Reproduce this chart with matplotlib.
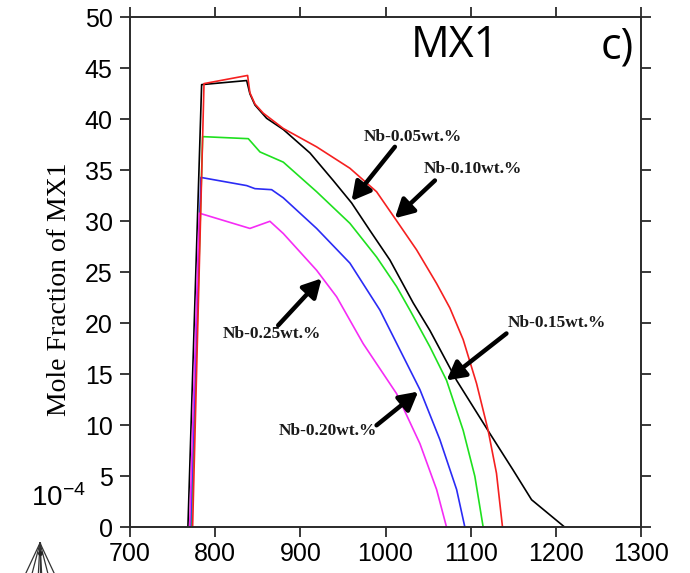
# =========================
# MX1 mole fraction vs temperature (panel c)
# =========================
import matplotlib
matplotlib.use("Agg")
import matplotlib.pyplot as plt
from matplotlib.lines import Line2D

# =========================
# Data
# =========================
nb005_t = [768.0, 784.1, 837.0, 840.8, 846.7, 860.4, 880.0, 911.3, 938.6, 960.2, 981.7,
           1005.2, 1032.5, 1052.1, 1083.5, 1122.5, 1149.9, 1171.5, 1210.6]
nb005_f = [0.0, 43.4, 43.8, 42.5, 41.4, 40.1, 39.0, 36.7, 34.0, 31.8, 29.1,
           26.2, 22.0, 19.3, 14.4, 9.2, 5.6, 2.7, 0.0]

nb010_t = [773.5, 786.9, 838.1, 840.8, 846.7, 856.5, 880.0, 919.1, 958.2, 989.5, 1011.0,
           1036.5, 1060.0, 1075.6, 1091.2, 1106.9, 1120.5, 1130.3, 1137.4]
nb010_f = [0.0, 43.5, 44.3, 42.6, 41.5, 40.6, 39.1, 37.3, 35.2, 32.9, 30.3,
           27.2, 23.9, 21.5, 18.4, 14.1, 9.5, 5.3, 0.0]

nb015_t = [772.0, 785.3, 838.9, 852.6, 880.0, 919.1, 958.2, 989.5, 1013.0, 1028.6,
           1052.1, 1071.7, 1091.2, 1104.9, 1114.7]
nb015_f = [0.0, 38.3, 38.1, 36.8, 35.8, 32.9, 29.8, 26.5, 23.6, 21.3,
           17.7, 14.4, 9.5, 5.0, 0.0]

nb020_t = [771.0, 783.3, 837.0, 846.7, 866.3, 880.0, 919.1, 958.2, 993.4,
           1016.9, 1040.4, 1063.8, 1083.5, 1093.2]
nb020_f = [0.0, 34.3, 33.5, 33.2, 33.1, 32.3, 29.3, 25.9, 21.3,
           17.4, 13.5, 8.6, 3.7, 0.0]

nb025_t = [770.0, 781.3, 840.8, 864.3, 880.0, 919.1, 942.6, 973.8, 1013.0, 1040.4, 1060.0, 1071.7]
nb025_f = [0.0, 30.8, 29.3, 30.0, 28.8, 25.2, 22.6, 18.0, 13.1, 8.2, 3.7, 0.0]

series = [
    (nb005_t, nb005_f, "black"),
    (nb015_t, nb015_f, "#1fe01f"),
    (nb020_t, nb020_f, "#2b2bf5"),
    (nb025_t, nb025_f, "#f52cf5"),
    (nb010_t, nb010_f, "#f52020"),
]

# labels: text, text position, arrow tail, arrow tip
labels      = ["Nb-0.05wt.%", "Nb-0.10wt.%", "Nb-0.15wt.%", "Nb-0.25wt.%", "Nb-0.20wt.%"]
label_pos   = [(1032, 38.3), (1102.6, 35.1), (1201.8, 20.0), (866.3, 18.95), (931.8, 9.46)]
arrow_tail  = [(1011, 37.3), (1058, 34.0), (1142, 19.0), (874, 19.8), (989.5, 10.0)]
arrow_tip   = [(960.2, 32.0), (1011, 30.3), (1071.7, 14.4), (925, 24.4), (1038.4, 13.3)]

x_ticks = [700, 800, 900, 1000, 1100, 1200, 1300]
y_ticks = [0, 5, 10, 15, 20, 25, 30, 35, 40, 45, 50]

# =========================
# Figure
# =========================
fig = plt.figure(figsize=(6.9, 5.73), dpi=100)
ax = fig.add_axes([0.1884, 0.0798, 0.7406, 0.8900])

for t, f, c in series:
    ax.plot(t, f, color=c, lw=1.2)

ax.set_xlim(700, 1300)
ax.set_ylim(0, 50)
ax.set_xticks(x_ticks)
ax.set_yticks(y_ticks)

axis_col = "#2a2a2a"
for s in ax.spines.values():
    s.set_color(axis_col)
    s.set_linewidth(1.4)

ax.tick_params(direction="out", length=7.5, width=1.3, color=axis_col,
               top=True, right=True, labeltop=False, labelright=False,
               labelsize=18)
ax.tick_params(axis="y", pad=5)
ax.tick_params(axis="x", pad=3)
for lab in ax.get_xticklabels() + ax.get_yticklabels():
    lab.set_fontfamily("Liberation Sans")

ax.set_ylabel("Mole Fraction of MX1", fontfamily="Liberation Serif", fontsize=20)
ax.yaxis.set_label_coords(-0.113, 0.467)

# -------------------------
# Annotations
# -------------------------
for txt, pos, tail, tip in zip(labels, label_pos, arrow_tail, arrow_tip):
    ax.text(pos[0], pos[1], txt, ha="center", va="center",
            fontfamily="Liberation Serif", fontweight="bold",
            fontsize=12.5, color="#1a1a1a")
    ax.annotate("", xy=tip, xytext=tail,
                arrowprops=dict(arrowstyle="-|>,head_length=0.55,head_width=0.3",
                                lw=3.2, color="black", mutation_scale=20,
                                shrinkA=0, shrinkB=0))

ax.text(0.635, 0.944, "MX1", transform=ax.transAxes, ha="center", va="center",
        fontfamily="Open Sans", fontsize=31)
ax.text(0.953, 0.942, "c)", transform=ax.transAxes, ha="center", va="center",
        fontfamily="Open Sans", fontsize=31)

fig.text(0.085, 0.131, r"$\mathregular{10^{-4}}$", ha="center", va="center",
         fontfamily="Liberation Sans", fontsize=20)

# -------------------------
# Small logo in the corner
# -------------------------
W, H = 690.0, 573.0
apex = (40 / W, 1 - 543 / H)
for bx in [25, 31.7, 38.3, 40, 41.7, 48.3, 55]:
    fig.add_artist(Line2D([apex[0], bx / W], [apex[1], 1 - 575 / H],
                          color="#333333", lw=0.9))
fig.add_artist(Line2D([40 / W], [1 - 553 / H], marker="o", ms=2.5,
                      color="#222222", lw=0))

fig.savefig("out.png", dpi=100)
